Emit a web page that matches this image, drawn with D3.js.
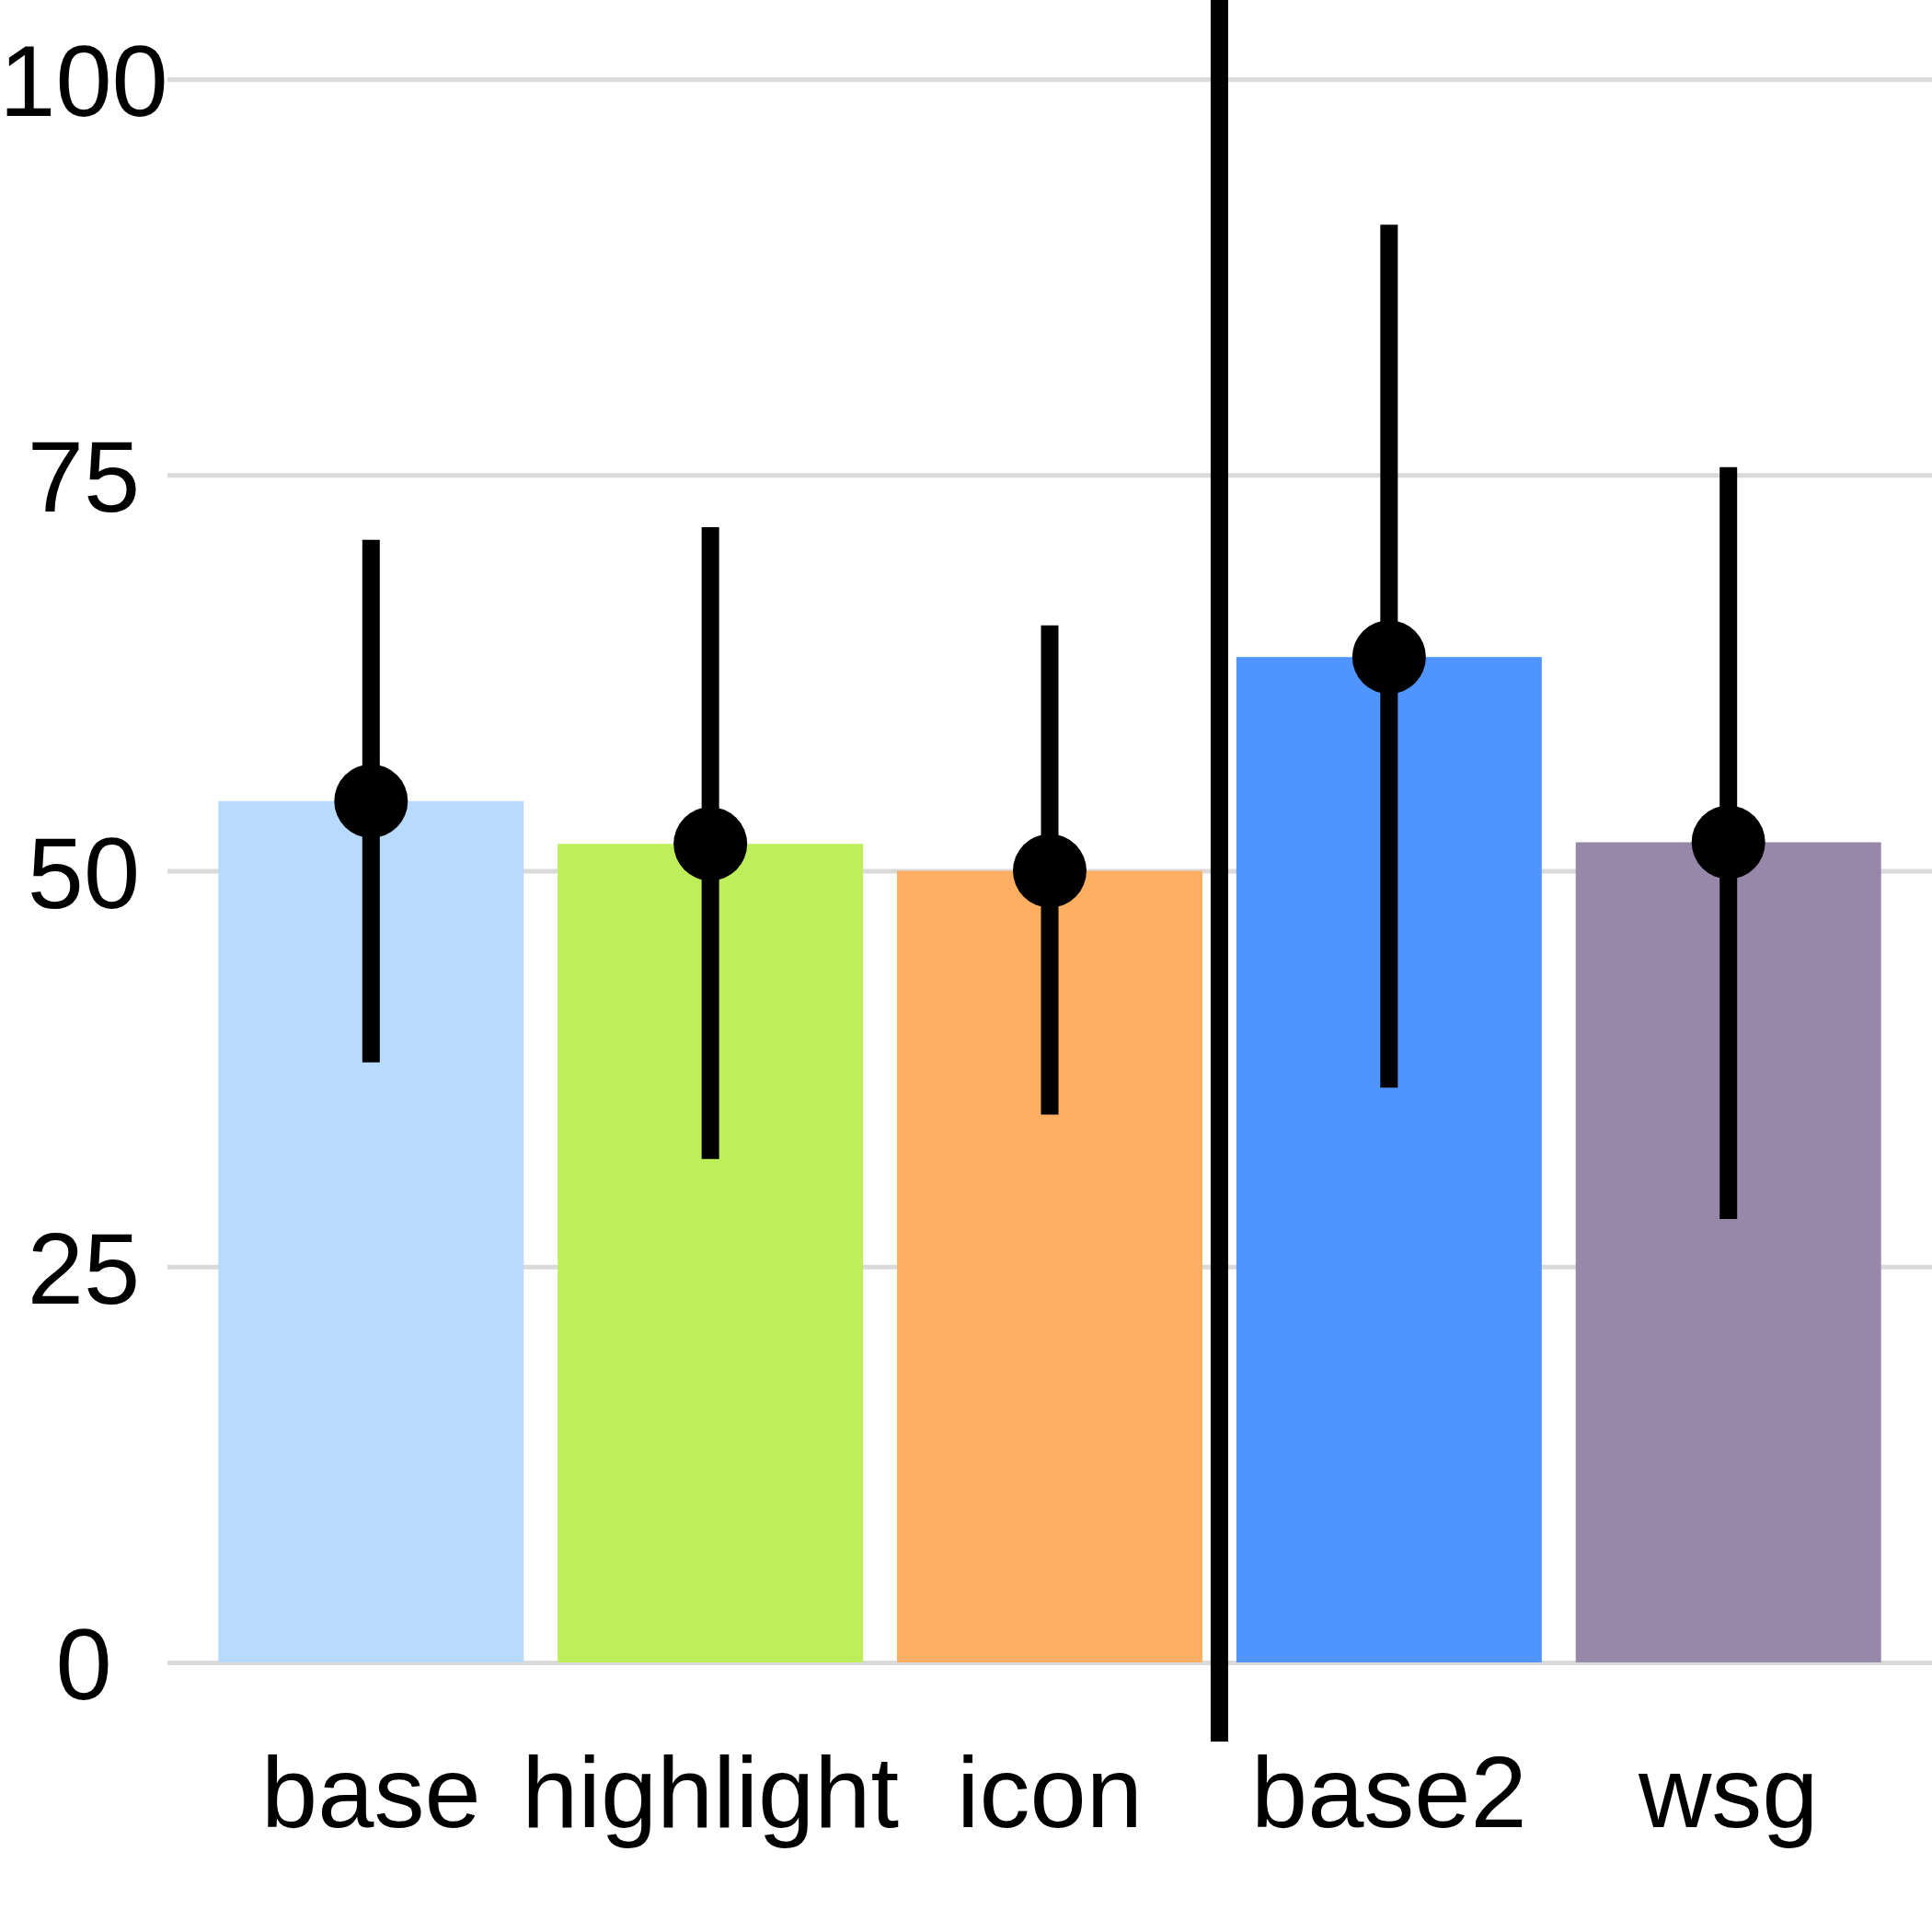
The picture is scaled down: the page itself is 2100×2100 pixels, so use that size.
<!DOCTYPE html>
<html>
<head>
<meta charset="utf-8">
<script src="https://cdn.jsdelivr.net/npm/d3@7"></script>
<style>
  html, body { margin: 0; padding: 0; background: #ffffff; }
  svg { display: block; }
</style>
</head>
<body>
<script>
// ---- data ----
const categories = ["base", "highlight", "icon", "base2", "wsg"];
const means      = [54.4, 51.7, 50.0, 63.5, 51.8];
const lower      = [37.9, 31.8, 34.6, 36.3, 28.0];
const upper      = [70.9, 71.7, 65.5, 90.8, 75.5];
const colors     = ["#B8DBFD", "#BEEE59", "#FCAF62", "#4F94FF", "#9788AA"];
const yTicks     = [0, 25, 50, 75, 100];
const dividerAfter = "icon";

// ---- layout ----
const W = 2100, H = 2100;
const panelLeft = 182, panelRight = 2100, panelTop = 0, panelBottom = 1893;
const font = "'Liberation Sans', Arial, Helvetica, sans-serif";

const svg = d3.select("body").append("svg")
  .attr("width", W).attr("height", H)
  .attr("viewBox", `0 0 ${W} ${H}`);

const x = d3.scaleBand()
  .domain(categories)
  .range([panelLeft, panelRight])
  .paddingInner(0.1)
  .paddingOuter(0.15);

const y = d3.scaleLinear()
  .domain([-5, 105])
  .range([panelBottom, panelTop]);

// gridlines + y labels
const yAxis = svg.append("g")
  .attr("transform", `translate(${panelLeft},0)`)
  .call(d3.axisLeft(y).tickValues(yTicks).tickSize(-(panelRight - panelLeft)).tickPadding(91));
yAxis.select(".domain").remove();
yAxis.selectAll(".tick line")
  .attr("stroke", "#dadada")
  .attr("stroke-width", 5);
yAxis.selectAll(".tick text")
  .attr("text-anchor", "middle")
  .attr("font-family", font)
  .attr("font-size", 110)
  .attr("fill", "#000")
  .attr("dy", "0.36em");

const data = categories.map((c, i) => ({ c, m: means[i], lo: lower[i], hi: upper[i], col: colors[i] }));

// bars
svg.append("g").selectAll("rect")
  .data(data).join("rect")
  .attr("x", d => x(d.c))
  .attr("width", x.bandwidth())
  .attr("y", d => y(d.m))
  .attr("height", d => y(0) - y(d.m))
  .attr("fill", d => d.col);

// divider line
const divX = x(dividerAfter) + x.bandwidth() / 2 + x.step() / 2;
svg.append("line")
  .attr("x1", divX).attr("x2", divX)
  .attr("y1", y(105)).attr("y2", y(-5))
  .attr("stroke", "#000")
  .attr("stroke-width", 19);

// error bars
svg.append("g").selectAll("line")
  .data(data).join("line")
  .attr("x1", d => x(d.c) + x.bandwidth() / 2)
  .attr("x2", d => x(d.c) + x.bandwidth() / 2)
  .attr("y1", d => y(d.lo))
  .attr("y2", d => y(d.hi))
  .attr("stroke", "#000")
  .attr("stroke-width", 19);

// points
svg.append("g").selectAll("circle")
  .data(data).join("circle")
  .attr("cx", d => x(d.c) + x.bandwidth() / 2)
  .attr("cy", d => y(d.m))
  .attr("r", 40)
  .attr("fill", "#000");

// x labels
const xAxis = svg.append("g")
  .attr("transform", `translate(0,${y(0)})`)
  .call(d3.axisBottom(x).tickSize(0));
xAxis.select(".domain").remove();
xAxis.selectAll(".tick text")
  .attr("y", 1986 - y(0))
  .attr("dy", null)
  .attr("font-family", font)
  .attr("font-size", 110)
  .attr("fill", "#000");
</script>
</body>
</html>
